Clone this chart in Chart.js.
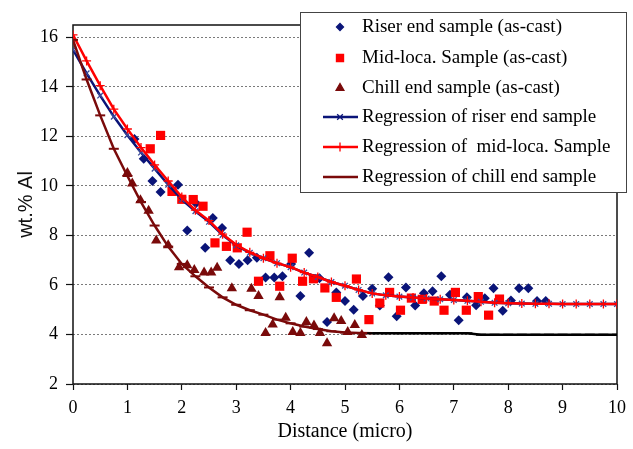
<!DOCTYPE html>
<html><head><meta charset="utf-8">
<script src="https://cdn.jsdelivr.net/npm/chart.js@4/dist/chart.umd.min.js"></script>
<style>html,body{margin:0;padding:0;background:#fff;}canvas{display:block;}</style>
</head><body>
<canvas id="c" width="633" height="449"></canvas>
<script>
// ---- data ----
const riserX = [1.13,1.30,1.46,1.61,1.93,2.10,2.26,2.43,2.57,2.74,2.89,3.05,3.21,3.38,3.54,3.70,3.85,4.01,4.18,4.34,4.53,4.67,4.84,5.00,5.16,5.33,5.50,5.64,5.80,5.95,6.12,6.29,6.45,6.61,6.77,6.93,7.09,7.24,7.41,7.57,7.73,7.90,8.05,8.20,8.37,8.53,8.69];
const riserY = [11.9,11.1,10.2,9.75,10.05,8.2,9.3,7.5,8.7,8.3,7.0,6.85,7.0,7.1,6.3,6.3,6.35,6.85,5.55,7.3,6.27,4.5,5.7,5.35,5.0,5.55,5.85,5.17,6.31,4.74,5.9,5.17,5.67,5.75,6.35,5.6,4.57,5.5,5.18,5.46,5.87,4.96,5.37,5.87,5.87,5.35,5.35];

const midX = [1.42,1.61,1.82,2.00,2.21,2.39,2.61,2.82,3.02,3.20,3.41,3.62,3.80,4.03,4.22,4.42,4.63,4.84,5.21,5.44,5.64,5.82,6.02,6.22,6.42,6.64,6.82,7.03,7.23,7.45,7.64,7.84];
const midY = [11.5,12.04,9.78,9.46,9.45,9.18,7.7,7.56,7.5,8.13,6.15,7.18,5.95,7.08,6.15,6.25,5.88,5.5,6.24,4.6,5.27,5.7,4.98,5.47,5.42,5.35,4.98,5.7,4.98,5.53,4.78,5.43];

const chillX = [1.00,1.09,1.24,1.39,1.53,1.75,1.95,2.10,2.23,2.41,2.54,2.65,2.92,3.28,3.41,3.54,3.67,3.80,3.91,4.04,4.18,4.29,4.43,4.54,4.67,4.80,4.93,5.05,5.18,5.31];
const chillY = [10.52,10.1,9.42,9.0,7.8,7.6,6.72,6.8,6.6,6.5,6.5,6.7,5.87,5.85,5.55,4.06,4.4,5.5,4.68,4.1,4.06,4.5,4.36,4.06,3.65,4.66,4.54,4.1,4.38,3.98];

const regX = [0,0.25,0.5,0.75,1,1.25,1.5,1.75,2,2.25,2.5,2.75,3,3.25,3.5,3.75,4,4.25,4.5,4.75,5,5.25,5.5,5.75,6,6.25,6.5,6.75,7,7.25,7.5,7.75,8,8.25,8.5,8.75,9,9.25,9.5,9.75,10];
const riserReg = [15.5,14.55,13.65,12.8,12.05,11.35,10.7,10.05,9.45,8.98,8.55,8.02,7.6,7.3,7.08,6.88,6.72,6.5,6.32,6.12,5.97,5.8,5.66,5.58,5.53,5.49,5.45,5.42,5.39,5.36,5.32,5.28,5.26,5.25,5.24,5.24,5.23,5.23,5.23,5.23,5.23];
const midReg = [16.1,15.05,14.05,13.1,12.3,11.55,10.85,10.2,9.55,9.02,8.6,8.05,7.62,7.32,7.08,6.88,6.72,6.5,6.32,6.12,5.97,5.8,5.66,5.58,5.53,5.49,5.45,5.42,5.39,5.36,5.32,5.28,5.26,5.25,5.24,5.24,5.23,5.23,5.23,5.23,5.23];
const chillReg = [15.9,14.3,12.85,11.5,10.4,9.35,8.4,7.55,6.85,6.35,5.9,5.5,5.2,4.98,4.8,4.6,4.45,4.32,4.22,4.13,4.08,4.06,4.05,4.05,4.05,4.05,4.05,4.05,4.05,4.05,3.99,3.99,3.99,3.99,3.99,3.99,3.99,3.99,3.99,3.99,3.99];

const yTicks = [2,4,6,8,10,12,14,16];
const xTicks = [0,1,2,3,4,5,6,7,8,9,10];
const labels = ["Riser end sample (as-cast)","Mid-loca. Sample (as-cast)","Chill end sample (as-cast)","Regression of riser end sample","Regression of  mid-loca. Sample","Regression of chill end sample"];

const pts = (xs, ys) => xs.map((x, i) => ({x, y: ys[i]}));
const SERIF = "'Liberation Serif','Times New Roman',serif";
const SANS = "'Liberation Sans',Arial,sans-serif";
const NAVY = '#0a1478', RED = '#ff0000', MAROON = '#7a0a0a';
const chillColor = c => (c.parsed && c.parsed.x >= 5.3) ? '#000' : MAROON;

const frame = {
  id: 'frame',
  beforeDatasetsDraw(chart) {
    const {ctx, chartArea: a} = chart;
    ctx.save();
    ctx.strokeStyle = '#111'; ctx.lineWidth = 1.5;
    ctx.strokeRect(a.left, a.top, a.right - a.left, a.bottom - a.top);
    ctx.restore();
  },
  afterDraw(chart) {
    const ctx = chart.ctx;
    ctx.save();
    ctx.fillStyle = '#fff';
    ctx.fillRect(300, 12, 327, 181);
    ctx.strokeStyle = '#444'; ctx.lineWidth = 1;
    ctx.strokeRect(300.5, 12.5, 326, 180);
    const rowY = [27, 58, 88, 117, 147, 177];
    chart.data.datasets.forEach((ds, i) => {
      const y = rowY[i];
      if (ds.showLine) {
        ctx.strokeStyle = ds.legendColor; ctx.lineWidth = 2.5;
        ctx.beginPath(); ctx.moveTo(323, y); ctx.lineTo(358, y); ctx.stroke();
      }
      ctx.fillStyle = ds.legendColor; ctx.strokeStyle = ds.legendColor;
      ctx.lineWidth = 1.3;
      Chart.helpers.drawPoint(ctx, {pointStyle: ds.pointStyle, radius: ds.legendRadius, rotation: 0, borderWidth: 1.3}, 340, y);
      ctx.fillStyle = '#000';
      ctx.font = "19px " + SERIF;
      ctx.textBaseline = 'middle'; ctx.textAlign = 'left';
      ctx.fillText(labels[i], 362, y);
    });
    ctx.restore();
  }
};

new Chart(document.getElementById('c'), {
  type: 'scatter',
  data: {
    datasets: [
      {label: labels[0], data: pts(riserX, riserY), pointStyle: 'rectRot', pointRadius: 5,
       backgroundColor: NAVY, borderColor: NAVY, pointBorderWidth: 0, order: 6,
       legendColor: NAVY, legendRadius: 3.5},
      {label: labels[1], data: pts(midX, midY), pointStyle: 'rect', pointRadius: 6.5,
       backgroundColor: RED, borderColor: RED, pointBorderWidth: 0, order: 5,
       legendColor: RED, legendRadius: 5},
      {label: labels[2], data: pts(chillX, chillY), pointStyle: 'triangle', pointRadius: 6,
       backgroundColor: MAROON, borderColor: MAROON, pointBorderWidth: 0, order: 4,
       legendColor: MAROON, legendRadius: 4.5},
      {label: labels[3], data: pts(regX, riserReg), showLine: true, borderColor: NAVY, borderWidth: 2.5,
       pointStyle: 'crossRot', pointRadius: 4, pointBorderColor: '#3a4a9a', pointBorderWidth: 1.3,
       backgroundColor: NAVY, order: 3, legendColor: NAVY, legendRadius: 4},
      {label: labels[4], data: pts(regX, midReg), showLine: true, borderColor: RED, borderWidth: 2.5,
       pointStyle: 'cross', pointRadius: 4.5, pointBorderColor: RED, pointBorderWidth: 1.3,
       backgroundColor: RED, order: 2, legendColor: RED, legendRadius: 4.5},
      {label: labels[5], data: pts(regX, chillReg), showLine: true, borderColor: MAROON, borderWidth: 2.5,
       segment: {borderColor: c => c.p0.parsed.x >= 5.3 ? '#000' : MAROON},
       pointStyle: 'line', pointRadius: 5, pointBorderColor: chillColor, pointBorderWidth: 2,
       backgroundColor: MAROON, order: 1, legendColor: MAROON, legendRadius: 5}
    ]
  },
  options: {
    responsive: false, animation: false, devicePixelRatio: 1,
    layout: {padding: {top: 25, right: 12, left: 0, bottom: 0}},
    plugins: {legend: {display: false}, tooltip: {enabled: false}},
    scales: {
      x: {
        type: 'linear', min: 0, max: 10,
        afterFit: s => { s.height = 65; },
        afterBuildTicks: s => { s.ticks = xTicks.map(v => ({value: v})); },
        ticks: {font: {family: SERIF, size: 18}, color: '#000', padding: 7},
        grid: {display: true, drawOnChartArea: false, tickLength: 6, color: '#111', tickWidth: 1.2},
        border: {display: false},
        title: {display: true, text: 'Distance (micro)', font: {family: SERIF, size: 20}, color: '#000', padding: {bottom: 5}}
      },
      y: {
        type: 'linear', min: 2, max: 16.5,
        afterFit: s => { s.width = 73; },
        afterBuildTicks: s => { s.ticks = yTicks.map(v => ({value: v})); },
        ticks: {font: {family: SERIF, size: 18}, color: '#000', padding: 8},
        grid: {color: '#7a7a7a', lineWidth: 1, tickLength: 7, tickColor: '#111', tickWidth: 1.2,
               borderDash: [2, 2], tickBorderDash: []},
        border: {display: false, dash: [2, 2]},
        title: {display: true, text: 'wt.% Al', font: {family: SANS, size: 20}, color: '#111', padding: {top: 14}}
      }
    }
  },
  plugins: [frame]
});
</script>
</body></html>
